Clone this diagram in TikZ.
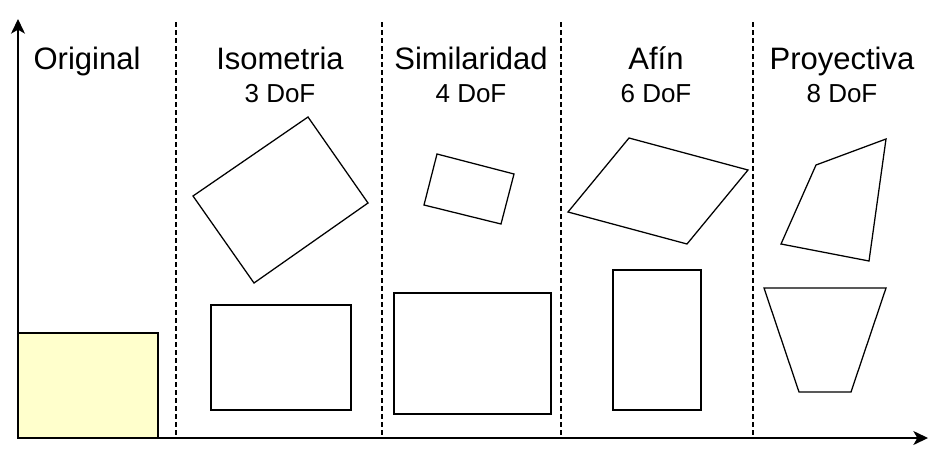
\documentclass[tikz,border=0pt]{standalone}
\usepackage{fontspec}
\setmainfont{Liberation Sans}
\usetikzlibrary{arrows.meta}
\definecolor{paleyellow}{HTML}{FFFFCC}
\tikzset{
  shape line/.style={line width=0.95pt, line join=miter},
  sep line/.style={line width=0.9pt, dash pattern=on 3.5pt off 2.5pt},
  axis line/.style={line width=0.95pt, -{Stealth[length=11pt,width=10.5pt,inset=3pt]}},
  title/.style={anchor=base, font=\fontsize{23.25}{26}\selectfont, inner sep=0pt},
  dof/.style={anchor=base, font=\fontsize{19.5}{22}\selectfont, inner sep=0pt}
}
\begin{document}
\begin{tikzpicture}[x=0.75pt, y=-0.75pt]
\useasboundingbox (0,0) rectangle (949,461);

%axes
\coordinate (O) at (18,438);
\coordinate (ytop) at (18,19);
\coordinate (xend) at (928,438);

%original square
\draw[shape line, fill=paleyellow] (18,333) rectangle (158,438);

\draw[axis line] (O) -- (ytop);
\draw[axis line] (O) -- (xend);

%separators
\foreach \sx/\sn in {176/a, 382/b, 561/c, 753/d} {
  \coordinate (top\sn) at (\sx,22);
  \coordinate (bot\sn) at (\sx,438);
  \draw[sep line] (top\sn) -- (bot\sn);
}

%titles
\node[title] (original) at (87,69.5) {Original};
\node[title] (isometria) at (280,69.5) {Isometria};
\node[title] (similaridad) at (471,69.5) {Similaridad};
\node[title] (afin) at (656,69.5) {Afín};
\node[title] (proyectiva) at (842,69.5) {Proyectiva};

%degrees of freedom
\node[dof] (dofiso) at (280,102) {3 DoF};
\node[dof] (dofsim) at (471,102) {4 DoF};
\node[dof] (dofafin) at (656,102) {6 DoF};
\node[dof] (dofproy) at (842,102) {8 DoF};

%isometria
\draw[shape line] (193,196) -- (308,117) -- (368,203) -- (254,283) -- cycle;
\draw[shape line] (211,305) rectangle (351,410);

%similaridad
\draw[shape line] (437,154) -- (514,174) -- (501,224) -- (424,205) -- cycle;
\draw[shape line] (394,293) rectangle (551,414);

%afin
\draw[shape line] (629,138) -- (748,170) -- (687,244) -- (568,212) -- cycle;
\draw[shape line] (613,270) rectangle (701,410);

%proyectiva
\draw[shape line] (816,165) -- (886,139) -- (869,261) -- (781,244) -- cycle;
\draw[shape line] (764,288) -- (886,288) -- (851,392) -- (799,392) -- cycle;

\end{tikzpicture}
\end{document}
